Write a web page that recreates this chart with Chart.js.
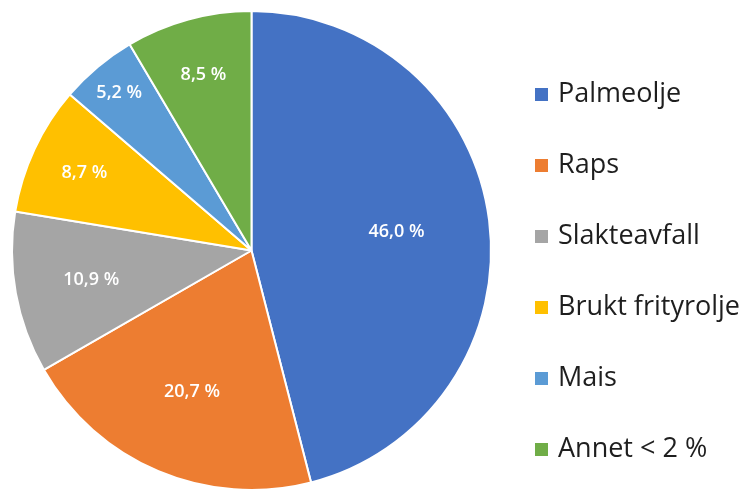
<!DOCTYPE html>
<html>
<head>
<meta charset="utf-8">
<script src="https://cdn.jsdelivr.net/npm/chart.js@4.4.0/dist/chart.umd.min.js"></script>
<style>
    html, body { margin: 0; padding: 0; background: #fff; }
</style>
</head>
<body>
<canvas id="mycanvas" width="750" height="491"></canvas>
<script>
// data
var categories = ['Palmeolje', 'Raps', 'Slakteavfall', 'Brukt frityrolje', 'Mais', 'Annet < 2 %'];
var shares = [46.0, 20.7, 10.9, 8.7, 5.2, 8.5];

var sliceColors = ['#4472C4', '#ED7D31', '#A5A5A5', '#FFC000', '#5B9BD5', '#70AD47'];

function fmtShare(v) {
    return v.toFixed(1).replace('.', ',') + ' %';
}

// white percentage labels inside the slices
var sliceLabels = {
    id: 'sliceLabels',
    afterDatasetsDraw: function (chart, args, opts) {
        var ctx = chart.ctx;
        var meta = chart.getDatasetMeta(0);
        ctx.save();
        ctx.font = '600 18px "Open Sans"';
        ctx.fillStyle = '#ffffff';
        ctx.textAlign = 'center';
        ctx.textBaseline = 'middle';
        meta.data.forEach(function (arc, i) {
            var p = arc.getProps(['x', 'y', 'startAngle', 'endAngle', 'outerRadius'], true);
            var mid = (p.startAngle + p.endAngle) / 2;
            var r = p.outerRadius * opts.radius[i];
            ctx.fillText(fmtShare(shares[i]), p.x + Math.cos(mid) * r, p.y + Math.sin(mid) * r);
        });
        ctx.restore();
    }
};

// legend on the right, drawn by hand to get the wide spacing
var sideLegend = {
    id: 'sideLegend',
    afterDraw: function (chart, args, opts) {
        var ctx = chart.ctx;
        var ds = chart.data.datasets[0];
        ctx.save();
        ctx.font = '27px "Open Sans"';
        ctx.textAlign = 'left';
        ctx.textBaseline = 'alphabetic';
        chart.data.labels.forEach(function (lab, i) {
            var base = opts.top + i * opts.step;
            ctx.fillStyle = ds.backgroundColor[i];
            ctx.fillRect(opts.x, base - 14, 13, 13);
            ctx.fillStyle = '#1e1e1e';
            ctx.fillText(lab, opts.x + 23, base);
        });
        ctx.restore();
    }
};

var ctx = document.getElementById('mycanvas');

var pieChart = new Chart(ctx, {
    type: 'pie',
    data: {
        labels: categories,
        datasets: [
            {
                data: shares,
                backgroundColor: sliceColors,
                borderColor: '#ffffff',
                borderWidth: 2
            }
        ]
    },
    options: {
        responsive: false,
        animation: false,
        layout: {
            padding: { left: 9, right: 256, top: 10, bottom: -4 }
        },
        plugins: {
            legend: { display: false },
            tooltip: { enabled: false },
            sliceLabels: { radius: [0.61, 0.64, 0.68, 0.77, 0.86, 0.76] },
            sideLegend: { x: 535, top: 102, step: 71 }
        }
    },
    plugins: [sliceLabels, sideLegend]
});
</script>
</body>
</html>
